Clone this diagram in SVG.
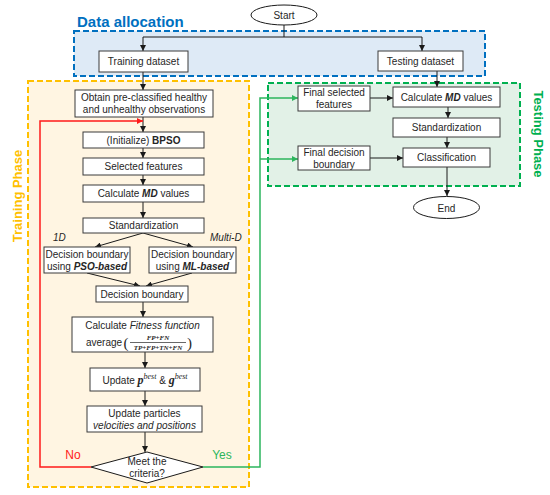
<svg xmlns="http://www.w3.org/2000/svg" width="550" height="495" viewBox="0 0 550 495">
<defs>
<style>
text{font-family:"Liberation Sans",Arial,sans-serif;font-size:10px;fill:#262626}
.c{text-anchor:middle}
.box{fill:#ffffff;stroke:#3a3a3a;stroke-width:1}
.ln{fill:none;stroke:#1a1a1a;stroke-width:1}
.bi{font-weight:bold;font-style:italic}
.it{font-style:italic}
.m{font-family:"Liberation Serif","Times New Roman",serif}
.reg{stroke-width:2;stroke-dasharray:6 3}
</style>
<marker id="ak" viewBox="0 0 10 10" refX="10" refY="5" markerWidth="6" markerHeight="6" markerUnits="userSpaceOnUse" orient="auto"><path d="M0,0 L10,5 L0,10 z" fill="#1a1a1a"/></marker>
<marker id="ar" viewBox="0 0 10 10" refX="10" refY="5" markerWidth="6" markerHeight="6" markerUnits="userSpaceOnUse" orient="auto"><path d="M0,0 L10,5 L0,10 z" fill="#ff1a1a"/></marker>
<marker id="ag" viewBox="0 0 10 10" refX="10" refY="5" markerWidth="6" markerHeight="6" markerUnits="userSpaceOnUse" orient="auto"><path d="M0,0 L10,5 L0,10 z" fill="#2db55d"/></marker>
</defs>
<rect width="550" height="495" fill="#ffffff"/>

<g id="regions">
<rect class="reg" x="74" y="31" width="411" height="45" fill="#deeaf6" stroke="#0070c0"/>
<rect class="reg" x="28" y="81" width="221" height="406" fill="#fff5e2" stroke="#ffc000"/>
<rect class="reg" x="268" y="83" width="252" height="103" fill="#e2f1e7" stroke="#00b050"/>
<text x="77" y="27" style="font-size:15px;font-weight:bold;fill:#0070c0">Data allocation</text>
<text transform="translate(22,196) rotate(-90)" class="c" style="font-size:13px;font-weight:bold;fill:#ffc000">Training Phase</text>
<text transform="translate(534,134) rotate(90)" class="c" style="font-size:13px;font-weight:bold;fill:#00b050">Testing Phase</text>
</g>

<g id="connectors">
<path class="ln" d="M284,25 V37 H143 V51" marker-end="url(#ak)"/>
<path class="ln" d="M284,37 H422 V51" marker-end="url(#ak)"/>
<path class="ln" d="M143,72 V90" marker-end="url(#ak)"/>
<path class="ln" d="M437,71 V87" marker-end="url(#ak)"/>
<path class="ln" d="M143,117 V132" marker-end="url(#ak)"/>
<path class="ln" d="M143,148 V158" marker-end="url(#ak)"/>
<path class="ln" d="M143,175 V185" marker-end="url(#ak)"/>
<path class="ln" d="M143,202 V218" marker-end="url(#ak)"/>
<path class="ln" d="M143,233 L95,247" marker-end="url(#ak)"/>
<path class="ln" d="M143,233 L193,247" marker-end="url(#ak)"/>
<path class="ln" d="M87,273 L140,286" marker-end="url(#ak)"/>
<path class="ln" d="M192,273 L146,286" marker-end="url(#ak)"/>
<path class="ln" d="M143,302 V317" marker-end="url(#ak)"/>
<path class="ln" d="M145,352 V368" marker-end="url(#ak)"/>
<path class="ln" d="M145,391 V406" marker-end="url(#ak)"/>
<path class="ln" d="M145,432 V452" marker-end="url(#ak)"/>
<path d="M91,467 H40 V121 H143" fill="none" stroke="#ff1a1a" stroke-width="1.5" marker-end="url(#ar)"/>
<path d="M203,467 H260 V98 H298" fill="none" stroke="#2db55d" stroke-width="1.5" marker-end="url(#ag)"/>
<path d="M260,159 H298" fill="none" stroke="#2db55d" stroke-width="1.5" marker-end="url(#ag)"/>
<path class="ln" d="M370,98 H393" marker-end="url(#ak)"/>
<path class="ln" d="M448,107 V118" marker-end="url(#ak)"/>
<path class="ln" d="M447,137 V148" marker-end="url(#ak)"/>
<path class="ln" d="M370,158 H403" marker-end="url(#ak)"/>
<path class="ln" d="M447,167 V196" marker-end="url(#ak)"/>
<text x="73" y="459" class="c" style="font-size:12px;fill:#ff1a1a">No</text>
<text x="222" y="459" class="c" style="font-size:12px;fill:#2db55d">Yes</text>
<text x="53" y="241" class="it">1D</text>
<text x="210" y="241" class="it">Multi-D</text>
</g>

<g id="start">
<ellipse cx="284" cy="15" rx="33" ry="10" fill="#ffffff" stroke="#1a1a1a"/>
<text x="284" y="19" class="c">Start</text>
</g>
<g id="training-dataset">
<rect class="box" x="99" y="51" width="89" height="21"/>
<text x="143.5" y="65" class="c">Training dataset</text>
</g>
<g id="testing-dataset">
<rect class="box" x="378" y="51" width="85" height="20"/>
<text x="420.5" y="64.5" class="c">Testing dataset</text>
</g>
<g id="obtain">
<rect class="box" x="75" y="90" width="138" height="27"/>
<text x="144" y="101" class="c">Obtain pre-classified healthy</text>
<text x="144" y="113" class="c">and unhealthy observations</text>
</g>
<g id="bpso">
<rect class="box" x="83" y="132" width="121" height="16"/>
<text x="143.5" y="143.5" class="c">(Initialize) <tspan font-weight="bold">BPSO</tspan></text>
</g>
<g id="selected-features">
<rect class="box" x="83" y="158" width="121" height="17"/>
<text x="143.5" y="170" class="c">Selected features</text>
</g>
<g id="calc-md-train">
<rect class="box" x="83" y="185" width="121" height="17"/>
<text x="143.5" y="197" class="c">Calculate <tspan class="bi">MD</tspan> values</text>
</g>
<g id="standardization-train">
<rect class="box" x="83" y="218" width="121" height="15"/>
<text x="143.5" y="229" class="c">Standardization</text>
</g>
<g id="db-pso">
<rect class="box" x="44" y="247" width="86" height="26"/>
<text x="87" y="258" class="c">Decision boundary</text>
<text x="87" y="270" class="c">using <tspan class="bi">PSO-based</tspan></text>
</g>
<g id="db-ml">
<rect class="box" x="149" y="247" width="87" height="26"/>
<text x="192.5" y="258" class="c">Decision boundary</text>
<text x="192.5" y="270" class="c">using <tspan class="bi">ML-based</tspan></text>
</g>
<g id="decision-boundary">
<rect class="box" x="96" y="286" width="92" height="16"/>
<text x="142" y="297.5" class="c">Decision boundary</text>
</g>
<g id="fitness">
<rect class="box" x="72" y="317" width="141" height="35"/>
<text x="142.5" y="329" class="c">Calculate <tspan class="it">Fitness function</tspan></text>
<text x="86" y="346">average</text>
<text x="123.5" y="347.5" class="m" style="font-size:15px">(</text>
<text x="158" y="340" class="c m bi" style="font-size:7px">FP+FN</text>
<line x1="130" y1="342.5" x2="186" y2="342.5" stroke="#262626" stroke-width="0.7"/>
<text x="158" y="349.5" class="c m bi" style="font-size:7px">TP+FP+TN+FN</text>
<text x="187" y="347.5" class="m" style="font-size:15px">)</text>
</g>
<g id="update-best">
<rect class="box" x="90" y="368" width="110" height="23"/>
<text x="145" y="384" class="c">Update <tspan class="m bi" style="font-size:12px">p</tspan><tspan class="m it" style="font-size:8px" dy="-5">best</tspan><tspan dy="5"> &amp; </tspan><tspan class="m bi" style="font-size:12px">g</tspan><tspan class="m it" style="font-size:8px" dy="-5">best</tspan></text>
</g>
<g id="update-particles">
<rect class="box" x="87" y="406" width="115" height="26"/>
<text x="144.5" y="417" class="c">Update particles</text>
<text x="144.5" y="429" class="c it">velocities and positions</text>
</g>
<g id="criteria">
<polygon points="147,452 203,467 147,483 91,467" fill="#ffffff" stroke="#1a1a1a"/>
<text x="147" y="465" class="c">Meet the</text>
<text x="147" y="477" class="c">criteria?</text>
</g>
<g id="final-features">
<rect class="box" x="298" y="86" width="72" height="25"/>
<text x="334" y="96" class="c">Final selected</text>
<text x="334" y="108" class="c">features</text>
</g>
<g id="calc-md-test">
<rect class="box" x="393" y="87" width="107" height="20"/>
<text x="446.5" y="100.5" class="c">Calculate <tspan class="bi">MD</tspan> values</text>
</g>
<g id="standardization-test">
<rect class="box" x="393" y="118" width="107" height="19"/>
<text x="446.5" y="131" class="c">Standardization</text>
</g>
<g id="final-db">
<rect class="box" x="298" y="146" width="72" height="24"/>
<text x="334" y="156" class="c">Final decision</text>
<text x="334" y="167.5" class="c">boundary</text>
</g>
<g id="classification">
<rect class="box" x="403" y="148" width="87" height="19"/>
<text x="446.5" y="161" class="c">Classification</text>
</g>
<g id="end">
<ellipse cx="446.5" cy="207.5" rx="33" ry="11" fill="#ffffff" stroke="#1a1a1a"/>
<text x="446.5" y="211.5" class="c">End</text>
</g>
</svg>
